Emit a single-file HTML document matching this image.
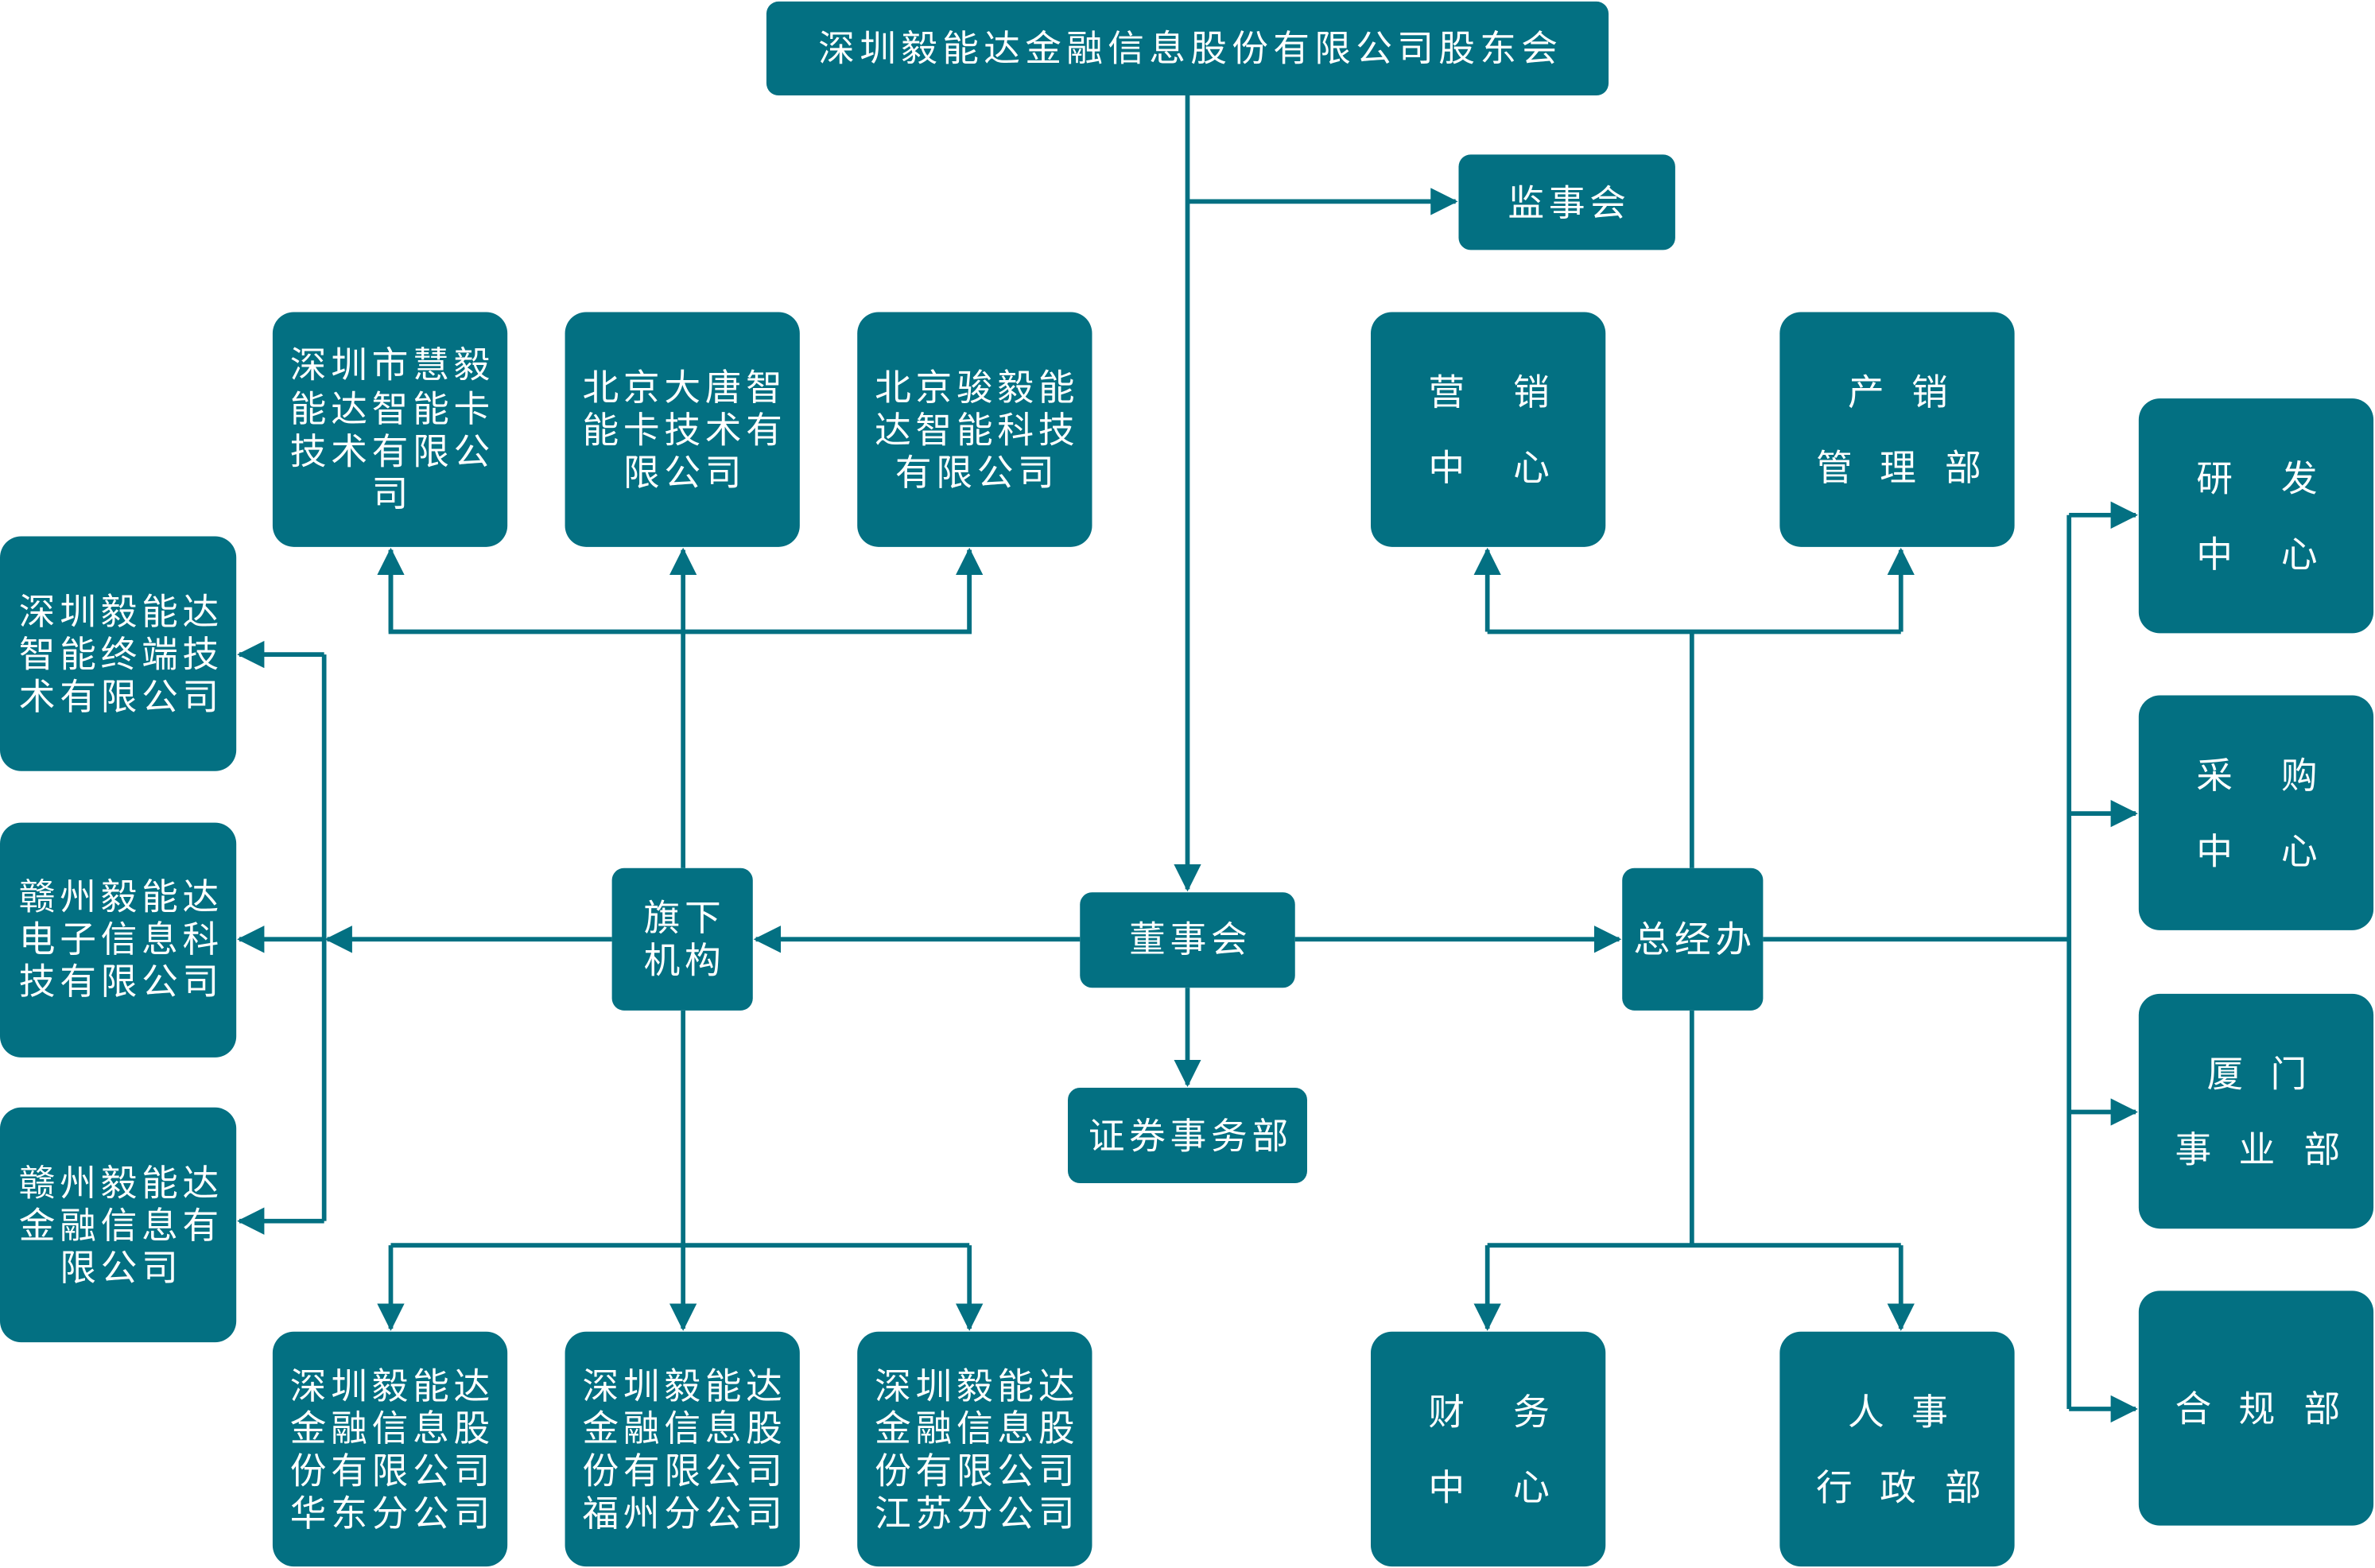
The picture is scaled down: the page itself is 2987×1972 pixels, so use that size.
<!DOCTYPE html>
<html><head><meta charset="utf-8"><style>
html,body{margin:0;padding:0;background:#fff;}
svg{display:block;}
text{font-family:"Liberation Sans","Noto Sans CJK SC",sans-serif;fill:#fff;font-size:24px;letter-spacing:3px;text-anchor:middle;dominant-baseline:central;}
text.s{letter-spacing:0;}
</style></head><body>
<svg width="2987" height="1972" viewBox="0 0 1568 1035" preserveAspectRatio="none" xmlns="http://www.w3.org/2000/svg">
<defs>
<marker id="a" markerWidth="6" markerHeight="6" refX="5.5" refY="3" orient="auto" markerUnits="strokeWidth">
<path d="M0,0 L6,3 L0,6 z" fill="#037082"/></marker>
</defs>
<g stroke="#037082" stroke-width="3" fill="none">
<line x1="784" y1="63" x2="784" y2="587" marker-end="url(#a)"/>
<line x1="784" y1="133" x2="961" y2="133" marker-end="url(#a)"/>
<line x1="784" y1="652" x2="784" y2="716" marker-end="url(#a)"/>
<line x1="713" y1="620" x2="499" y2="620" marker-end="url(#a)"/>
<line x1="855" y1="620" x2="1069" y2="620" marker-end="url(#a)"/>
<line x1="451" y1="573" x2="451" y2="363" marker-end="url(#a)"/>
<polyline points="258,363 258,417 640,417 640,363"/>
<line x1="258" y1="417" x2="258" y2="363" marker-end="url(#a)"/>
<line x1="640" y1="417" x2="640" y2="363" marker-end="url(#a)"/>
<line x1="451" y1="667" x2="451" y2="877" marker-end="url(#a)"/>
<polyline points="258,822 640,822"/>
<line x1="258" y1="822" x2="258" y2="877" marker-end="url(#a)"/>
<line x1="640" y1="822" x2="640" y2="877" marker-end="url(#a)"/>
<line x1="404" y1="620" x2="216" y2="620" marker-end="url(#a)"/>
<line x1="214" y1="620" x2="158" y2="620" marker-end="url(#a)"/>
<polyline points="214,432 214,806"/>
<line x1="214" y1="432" x2="158" y2="432" marker-end="url(#a)"/>
<line x1="214" y1="806" x2="158" y2="806" marker-end="url(#a)"/>
<line x1="1117" y1="573" x2="1117" y2="417"/>
<polyline points="982,417 1255,417"/>
<line x1="982" y1="417" x2="982" y2="363" marker-end="url(#a)"/>
<line x1="1255" y1="417" x2="1255" y2="363" marker-end="url(#a)"/>
<line x1="1117" y1="667" x2="1117" y2="822"/>
<polyline points="982,822 1255,822"/>
<line x1="982" y1="822" x2="982" y2="877" marker-end="url(#a)"/>
<line x1="1255" y1="822" x2="1255" y2="877" marker-end="url(#a)"/>
<line x1="1164" y1="620" x2="1366" y2="620"/>
<line x1="1366" y1="340" x2="1366" y2="930"/>
<line x1="1366" y1="340" x2="1410" y2="340" marker-end="url(#a)"/>
<line x1="1366" y1="537" x2="1410" y2="537" marker-end="url(#a)"/>
<line x1="1366" y1="734" x2="1410" y2="734" marker-end="url(#a)"/>
<line x1="1366" y1="930" x2="1410" y2="930" marker-end="url(#a)"/>
</g>
<g fill="#037082">
<rect x="506" y="1" width="556" height="62" rx="8"/>
<rect x="963" y="102" width="143" height="63" rx="8"/>
<rect x="180" y="206" width="155" height="155" rx="14"/>
<rect x="373" y="206" width="155" height="155" rx="14"/>
<rect x="566" y="206" width="155" height="155" rx="14"/>
<rect x="905" y="206" width="155" height="155" rx="14"/>
<rect x="1175" y="206" width="155" height="155" rx="14"/>
<rect x="1412" y="263" width="155" height="155" rx="14"/>
<rect x="1412" y="459" width="155" height="155" rx="14"/>
<rect x="1412" y="656" width="155" height="155" rx="14"/>
<rect x="1412" y="852" width="155" height="155" rx="14"/>
<rect x="0" y="354" width="156" height="155" rx="14"/>
<rect x="0" y="543" width="156" height="155" rx="14"/>
<rect x="0" y="731" width="156" height="155" rx="14"/>
<rect x="404" y="573" width="93" height="94" rx="8"/>
<rect x="713" y="589" width="142" height="63" rx="8"/>
<rect x="705" y="718" width="158" height="63" rx="8"/>
<rect x="1071" y="573" width="93" height="94" rx="8"/>
<rect x="180" y="879" width="155" height="155" rx="14"/>
<rect x="373" y="879" width="155" height="155" rx="14"/>
<rect x="566" y="879" width="155" height="155" rx="14"/>
<rect x="905" y="879" width="155" height="155" rx="14"/>
<rect x="1175" y="879" width="155" height="155" rx="14"/>
</g>
<g>
<text x="786" y="32" style="letter-spacing:3.3px">深圳毅能达金融信息股份有限公司股东会</text>
<text x="1036" y="134">监事会</text>
<text x="259" y="241">深圳市慧毅</text><text x="259" y="270">能达智能卡</text><text x="259" y="298">技术有限公</text><text x="259" y="326">司</text>
<text x="452" y="256">北京大唐智</text><text x="452" y="284">能卡技术有</text><text x="452" y="312">限公司</text>
<text x="645" y="256">北京骏毅能</text><text x="645" y="284">达智能科技</text><text x="645" y="312">有限公司</text>

<text class="s" x="955" y="259">营</text><text class="s" x="1011" y="259">销</text>
<text class="s" x="955" y="309">中</text><text class="s" x="1011" y="309">心</text>
<text class="s" x="1232" y="259">产</text><text class="s" x="1274" y="259">销</text>
<text class="s" x="1211" y="309">管</text><text class="s" x="1253" y="309">理</text><text class="s" x="1296" y="309">部</text>
<text class="s" x="1462" y="316">研</text><text class="s" x="1518" y="316">发</text>
<text class="s" x="1462" y="366">中</text><text class="s" x="1518" y="366">心</text>
<text class="s" x="1462" y="512">采</text><text class="s" x="1518" y="512">购</text>
<text class="s" x="1462" y="562">中</text><text class="s" x="1518" y="562">心</text>
<text class="s" x="1469" y="709">厦</text><text class="s" x="1511" y="709">门</text>
<text class="s" x="1448" y="759">事</text><text class="s" x="1490" y="759">业</text><text class="s" x="1533" y="759">部</text>
<text class="s" x="1448" y="930">合</text><text class="s" x="1490" y="930">规</text><text class="s" x="1533" y="930">部</text>

<text x="80" y="404">深圳毅能达</text><text x="80" y="432">智能终端技</text><text x="80" y="460">术有限公司</text>
<text x="80" y="592">赣州毅能达</text><text x="80" y="620">电子信息科</text><text x="80" y="648">技有限公司</text>
<text x="80" y="781">赣州毅能达</text><text x="80" y="809">金融信息有</text><text x="80" y="837">限公司</text>
<text x="452" y="606">旗下</text><text x="452" y="634">机构</text>
<text x="786" y="620">董事会</text>
<text x="786" y="750">证券事务部</text>
<text x="1119" y="620">总经办</text>
<text x="259" y="915">深圳毅能达</text><text x="259" y="943">金融信息股</text><text x="259" y="971">份有限公司</text><text x="259" y="999">华东分公司</text>
<text x="452" y="915">深圳毅能达</text><text x="452" y="943">金融信息股</text><text x="452" y="971">份有限公司</text><text x="452" y="999">福州分公司</text>
<text x="645" y="915">深圳毅能达</text><text x="645" y="943">金融信息股</text><text x="645" y="971">份有限公司</text><text x="645" y="999">江苏分公司</text>

<text class="s" x="955" y="932">财</text><text class="s" x="1011" y="932">务</text>
<text class="s" x="955" y="982">中</text><text class="s" x="1011" y="982">心</text>
<text class="s" x="1232" y="932">人</text><text class="s" x="1274" y="932">事</text>
<text class="s" x="1211" y="982">行</text><text class="s" x="1253" y="982">政</text><text class="s" x="1296" y="982">部</text>
</g>
</svg>
</body></html>
